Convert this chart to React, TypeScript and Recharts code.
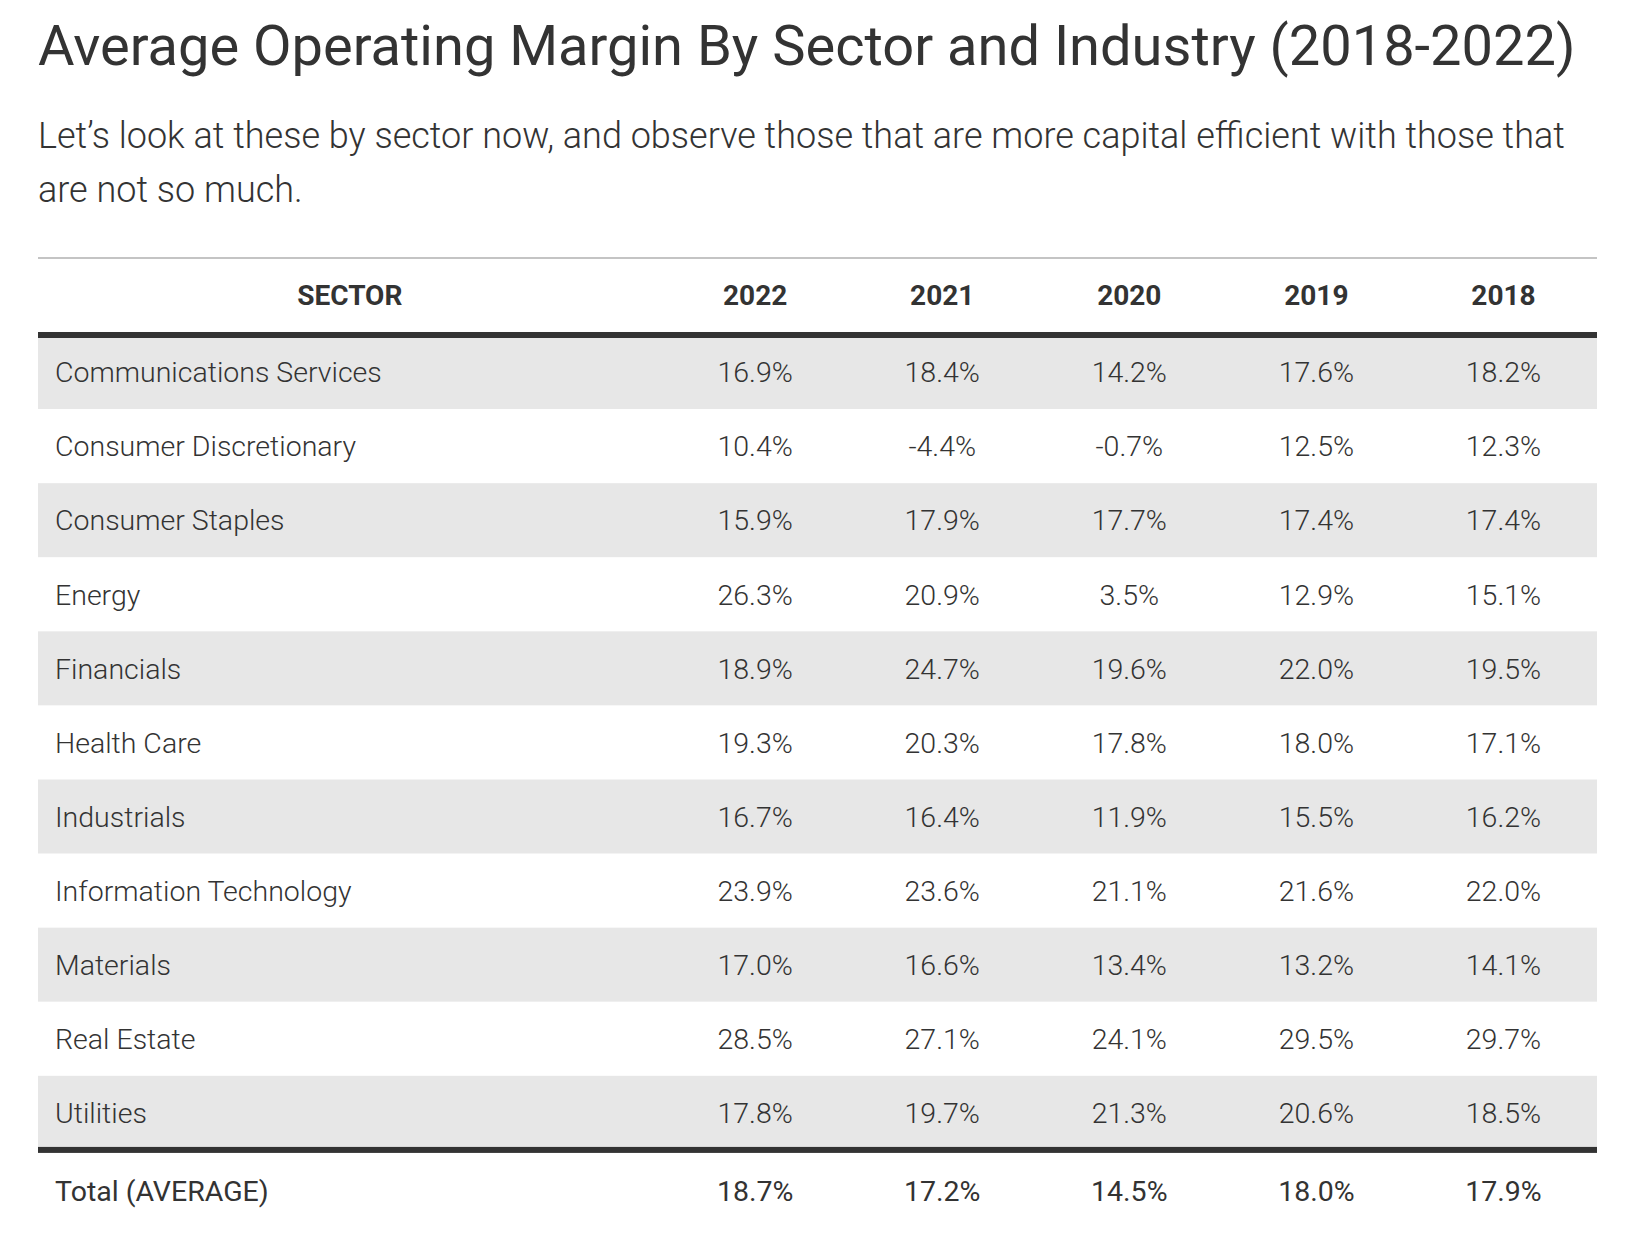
import { ComposedChart, Bar, Scatter, XAxis, YAxis } from 'recharts'

const sectors = [
  'Communications Services',
  'Consumer Discretionary',
  'Consumer Staples',
  'Energy',
  'Financials',
  'Health Care',
  'Industrials',
  'Information Technology',
  'Materials',
  'Real Estate',
  'Utilities',
]
const years = ['2022', '2021', '2020', '2019', '2018']

const margin2022 = [16.9, 10.4, 15.9, 26.3, 18.9, 19.3, 16.7, 23.9, 17.0, 28.5, 17.8]
const margin2021 = [18.4, -4.4, 17.9, 20.9, 24.7, 20.3, 16.4, 23.6, 16.6, 27.1, 19.7]
const margin2020 = [14.2, -0.7, 17.7, 3.5, 19.6, 17.8, 11.9, 21.1, 13.4, 24.1, 21.3]
const margin2019 = [17.6, 12.5, 17.4, 12.9, 22.0, 18.0, 15.5, 21.6, 13.2, 29.5, 20.6]
const margin2018 = [18.2, 12.3, 17.4, 15.1, 19.5, 17.1, 16.2, 22.0, 14.1, 29.7, 18.5]

const totalLabel = 'Total (AVERAGE)'
const totalByYear = [18.7, 17.2, 14.5, 18.0, 17.9]

const yearSeries = [margin2022, margin2021, margin2020, margin2019, margin2018]

// column layout in x-axis units (0..100)
const SECTOR_SHARE = 40
const YEAR_SHARE = 12
const colCenter = (i: number) => SECTOR_SHARE + YEAR_SHARE * (i + 0.5)
const headerTicks = [SECTOR_SHARE / 2, ...years.map((_, i) => colCenter(i))]
const headerLabels = ['SECTOR', ...years]

const fmt = (v: number) => `${v.toFixed(1)}%`

const rows = [...sectors, totalLabel].map((name, i) => ({
  row: name,
  band: 100,
  shaded: i < sectors.length && i % 2 === 0,
  total: name === totalLabel,
}))

const nameCells = rows.map((r) => ({ x: 0, row: r.row, text: r.row, total: r.total }))

const valueCells = years.map((_, j) => [
  ...yearSeries[j].map((v, i) => ({ x: colCenter(j), row: sectors[i], text: fmt(v), total: false })),
  { x: colCenter(j), row: totalLabel, text: fmt(totalByYear[j]), total: true },
])

const FONT = 'Roboto, "Noto Sans", sans-serif'
const TEXT = '#333333'
const CELL_SIZE = 28.5

function RowBand(props: any) {
  const { x, y, width, height, index } = props
  const p = props.payload ?? props
  return (
    <g>
      {p.shaded && <rect x={x} y={y} width={width} height={height} fill="#e7e7e7" />}
      {(index === 0 || p.total) && <rect x={x} y={y - 3} width={width} height={6} fill="#333333" />}
    </g>
  )
}

function CellText({ cx, cy, payload, anchor }: any) {
  const shift = payload.total ? 4 : 0
  return (
    <text x={anchor === 'start' ? cx + 17 : cx} y={cy + shift} dy="0.36em" textAnchor={anchor}
      fontFamily={FONT} fontSize={CELL_SIZE} fontWeight={payload.total ? 400 : 300} fill={TEXT}>
      {payload.text}
    </text>
  )
}

function HeaderTick(props: any) {
  const { x, y, payload, index } = props
  return (
    <text x={x} y={y} dy="0.36em" textAnchor="middle" fontFamily={FONT} fontSize={28}
      fontWeight={700} fill={TEXT}>
      {headerLabels[index] ?? payload.value}
    </text>
  )
}

export default function App() {
  return (
    <div style={{ position: 'relative', width: 1612, height: 1236, fontFamily: FONT, color: TEXT }}>
      <div style={{ position: 'absolute', left: 30, top: 6, fontSize: 56, lineHeight: '64px', whiteSpace: 'nowrap' }}>
        Average Operating Margin By Sector and Industry (2018-2022)
      </div>
      <div style={{ position: 'absolute', left: 30, top: 101, width: 1559, fontSize: 36, lineHeight: '54px', fontWeight: 300 }}>
        Let’s look at these by sector now, and observe those that are more capital efficient with those that are not so much.
      </div>
      <div style={{ position: 'absolute', left: 30, top: 249, width: 1559, height: 2, background: '#c4c4c4' }} />
      <div style={{ position: 'absolute', left: 30, top: 251 }}>
        <ComposedChart width={1559} height={965} data={rows} layout="vertical"
          margin={{ top: 0, right: 0, bottom: 0, left: 0 }} barCategoryGap={0} barGap={0}>
          <XAxis type="number" orientation="top" domain={[0, 100]} ticks={headerTicks} height={76}
            axisLine={false} tickLine={false} tickSize={0} tickMargin={40} interval={0}
            tick={<HeaderTick />} />
          <YAxis type="category" dataKey="row" hide allowDuplicatedCategory={false} />
          <Bar dataKey="band" shape={<RowBand />} isAnimationActive={false} />
          <Scatter data={nameCells} dataKey="x" shape={<CellText anchor="start" />} isAnimationActive={false} />
          {valueCells.map((cells, j) => (
            <Scatter key={years[j]} data={cells} dataKey="x" shape={<CellText anchor="middle" />}
              isAnimationActive={false} />
          ))}
        </ComposedChart>
      </div>
    </div>
  )
}
